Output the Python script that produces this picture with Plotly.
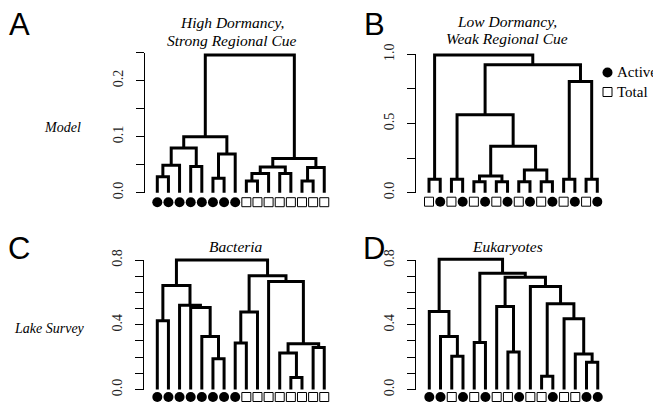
import plotly.graph_objects as go

W, H = 661, 405

# ---------------- data (R-style merge matrices: negative = leaf, positive = earlier merge) -------------
a_merge = [(-1, -2), (1, -3), (-4, -5), (2, 3), (-6, -7), (5, -8), (4, 6),
           (-9, -10), (8, -11), (-12, -13), (9, 10), (-14, -15), (12, -16), (11, 13), (7, 14)]
a_height = [0.0286, 0.049, 0.047, 0.080, 0.026, 0.069, 0.100,
            0.021, 0.0345, 0.0345, 0.046, 0.021, 0.045, 0.061, 0.246]
a_leaves = list("AAAAAAAATTTTTTTT")

b_merge = [(-1, -2), (-3, -4), (-5, -6), (-7, -8), (3, 4), (-9, -10), (-11, -12), (6, 7),
           (5, 8), (2, 9), (-13, -14), (-15, -16), (11, 12), (10, 13), (1, 14)]
b_height = [0.097, 0.097, 0.08, 0.08, 0.12, 0.08, 0.08, 0.164,
            0.335, 0.563, 0.097, 0.097, 0.804, 0.925, 0.995]
b_leaves = list("TATATATATATATATA")

c_merge = [(-1, -2), (-6, -7), (-5, 2), (-4, 3), (-3, 4), (1, 5), (-8, -9), (7, -10),
           (-13, -14), (-12, 9), (-15, -16), (10, 11), (-11, 12), (8, 13), (6, 14)]
c_height = [0.425, 0.19, 0.328, 0.506, 0.52, 0.642, 0.287, 0.478,
            0.074, 0.226, 0.26, 0.283, 0.667, 0.703, 0.80]
c_leaves = list("AAAAAAAATTTTTTTT")

d_merge = [(-3, -4), (-2, 1), (-1, 2), (-5, -6), (-8, -9), (-7, 5), (-11, -12), (-15, -16),
           (-14, 8), (-13, 9), (7, 10), (-10, 11), (6, 12), (4, 13), (3, 14)]
d_height = [0.205, 0.328, 0.482, 0.291, 0.232, 0.513, 0.082, 0.168,
            0.219, 0.437, 0.529, 0.636, 0.693, 0.718, 0.804]
d_leaves = list("AATATATTATTATTAA")

a_ticks = [0, 0.05, 0.1, 0.15, 0.2, 0.25]
a_ticktext = ["0.0", "", "0.1", "", "0.2", ""]
b_ticks = [0, 0.25, 0.5, 0.75, 1.0]
b_ticktext = ["0.0", "", "0.5", "", "1.0"]
cd_ticks = [0, 0.1, 0.2, 0.3, 0.4, 0.5, 0.6, 0.7, 0.8]
cd_ticktext = ["0.0", "", "", "", "0.4", "", "", "", "0.8"]

titles = ["<i>High Dormancy,</i>", "<i>Strong Regional Cue</i>",
          "<i>Low Dormancy,</i>", "<i>Weak Regional Cue</i>",
          "<i>Bacteria</i>", "<i>Eukaryotes</i>"]
row_labels = ["<i>Model</i>", "<i>Lake Survey</i>"]
panel_letters = ["A", "B", "C", "D"]
legend_labels = ["Active", "Total"]

# ---------------- layout geometry (screen pixels) ----------------
OX, OY = 8, 8   # page body margin offset
panels = [
    dict(merge=a_merge, height=a_height, leaves=a_leaves, ymax=0.25, tv=a_ticks, tt=a_ticktext,
         axis_px=145.0, leaf1_px=157.3, sp=11.13, y0_px=192.7, ytop_px=52.7, moff=9.5),
    dict(merge=b_merge, height=b_height, leaves=b_leaves, ymax=1.0, tv=b_ticks, tt=b_ticktext,
         axis_px=415.5, leaf1_px=429.0, sp=11.22, y0_px=192.7, ytop_px=54.3, moff=9.0),
    dict(merge=c_merge, height=c_height, leaves=c_leaves, ymax=0.8, tv=cd_ticks, tt=cd_ticktext,
         axis_px=143.5, leaf1_px=157.3, sp=11.13, y0_px=389.5, ytop_px=260.0, moff=7.5),
    dict(merge=d_merge, height=d_height, leaves=d_leaves, ymax=0.8, tv=cd_ticks, tt=cd_ticktext,
         axis_px=415.5, leaf1_px=429.3, sp=11.23, y0_px=389.5, ytop_px=260.0, moff=7.5),
]
WPX = 190
PAD = 5  # extra pixels above/below for the dendrogram drawing area (avoid clipping)


def px(x):
    return (x - OX) / W


def py(y):
    return 1 - (y - OY) / H


def dendro_segments(merge, heights):
    xs, ys = [], []
    pos = []
    def node(ref):
        if ref < 0:
            return float(-ref), 0.0
        return pos[ref - 1], heights[ref - 1]
    for (a, b), h in zip(merge, heights):
        xa, ha = node(a)
        xb, hb = node(b)
        xs += [xa, xa, xb, xb, None]
        ys += [ha, h, h, hb, None]
        pos.append((xa + xb) / 2)
    return xs, ys


fig = go.Figure()
layout_axes = {}
for i, p in enumerate(panels):
    k = "" if i == 0 else str(i + 1)
    sk = str(6 + i)
    dk = str(10 + i)
    xname, yname, sname, dname = "x" + k, "y" + k, "y" + sk, "y" + dk
    n = len(p["leaves"])
    scale = p["ymax"] / (p["y0_px"] - p["ytop_px"])
    # tick axis holder trace
    fig.add_trace(go.Scatter(x=[None], y=[None], mode="lines", xaxis=xname, yaxis=yname,
                             hoverinfo="skip", showlegend=False))
    xs, ys = dendro_segments(p["merge"], p["height"])
    fig.add_trace(go.Scatter(x=xs, y=ys, mode="lines", xaxis=xname, yaxis=dname,
                             line=dict(color="black", width=3), hoverinfo="skip",
                             showlegend=False))
    leaf_x = list(range(1, n + 1))
    for kind in ["A", "T"]:
        lx = [x for x, t in zip(leaf_x, p["leaves"]) if t == kind]
        if kind == "A":
            mk = dict(symbol="circle", size=10, color="black", line=dict(width=0))
        else:
            mk = dict(symbol="square", size=9, color="white", line=dict(color="black", width=1))
        fig.add_trace(go.Scatter(x=lx, y=[0] * len(lx), mode="markers",
                                 xaxis=xname, yaxis=sname, marker=mk, cliponaxis=False,
                                 hoverinfo="skip", showlegend=False))
    x_left = 1 - (p["leaf1_px"] - p["axis_px"]) / p["sp"]
    layout_axes["xaxis" + k] = dict(domain=[px(p["axis_px"]), px(p["axis_px"] + WPX)],
                                    range=[x_left, x_left + WPX / p["sp"]], visible=False,
                                    anchor=yname, automargin=False)
    layout_axes["yaxis" + k] = dict(domain=[py(p["y0_px"]), py(p["ytop_px"])],
                                    range=[0, p["ymax"]], anchor=xname, automargin=False,
                                    showline=True, linecolor="black", linewidth=1,
                                    ticks="outside", ticklen=8, tickwidth=1, tickcolor="black",
                                    tickvals=p["tv"], ticktext=p["tt"], tickangle=-90,
                                    ticklabelstandoff=7,
                                    tickfont=dict(family="Liberation Serif", size=14, color="#222"),
                                    showgrid=False, zeroline=False)
    layout_axes["yaxis" + dk] = dict(domain=[py(p["y0_px"] + PAD), py(p["ytop_px"] - PAD)],
                                     range=[-PAD * scale, p["ymax"] + PAD * scale],
                                     anchor=xname, visible=False, automargin=False)
    mc = p["y0_px"] + p["moff"]
    layout_axes["yaxis" + sk] = dict(domain=[py(mc + 7), py(mc - 7)], range=[-1, 1],
                                     anchor=xname, visible=False, automargin=False)

# legend on a screen-pixel overlay axis
fig.add_trace(go.Scatter(x=[607.5], y=[72.5], mode="markers", xaxis="x5", yaxis="y5",
                         marker=dict(symbol="circle", size=10, color="black"),
                         hoverinfo="skip", showlegend=False, cliponaxis=False))
fig.add_trace(go.Scatter(x=[607.5], y=[92.0], mode="markers", xaxis="x5", yaxis="y5",
                         marker=dict(symbol="square", size=9, color="white",
                                     line=dict(color="black", width=1)),
                         hoverinfo="skip", showlegend=False, cliponaxis=False))
layout_axes["xaxis5"] = dict(domain=[0, 1], range=[OX, OX + W], visible=False, anchor="y5",
                             automargin=False)
layout_axes["yaxis5"] = dict(domain=[0, 1], range=[OY + H, OY], visible=False, anchor="x5",
                             automargin=False)

ann = []
serif = "Liberation Serif"
title_pos = [(232, 23), (232, 40), (507, 21), (507, 38), (236, 246), (507, 246)]
for t, (x, y) in zip(titles, title_pos):
    ann.append(dict(text=t, x=px(x), y=py(y), xref="paper", yref="paper", showarrow=False,
                    xanchor="center", yanchor="middle",
                    font=dict(family=serif, size=15.5, color="black")))
for t, (x, y) in zip(row_labels, [(63, 127), (49, 328)]):
    ann.append(dict(text=t, x=px(x), y=py(y), xref="paper", yref="paper", showarrow=False,
                    xanchor="center", yanchor="middle",
                    font=dict(family=serif, size=14, color="black")))
for t, (x, y) in zip(panel_letters, [(19, 25), (374, 25), (19, 248), (374, 248)]):
    ann.append(dict(text=t, x=px(x), y=py(y), xref="paper", yref="paper", showarrow=False,
                    xanchor="center", yanchor="middle",
                    font=dict(family="Liberation Sans", size=31, color="black")))
for t, (x, y) in zip(legend_labels, [(615, 72), (615, 92)]):
    ann.append(dict(text=t, x=px(x), y=py(y), xref="paper", yref="paper", showarrow=False,
                    xanchor="left", yanchor="middle",
                    font=dict(family=serif, size=15, color="black")))

fig.update_layout(width=W, height=H, margin=dict(l=0, r=0, t=0, b=0, autoexpand=False),
                  paper_bgcolor="white", plot_bgcolor="rgba(0,0,0,0)",
                  annotations=ann, showlegend=False, **layout_axes)
fig.write_html("out.html")
